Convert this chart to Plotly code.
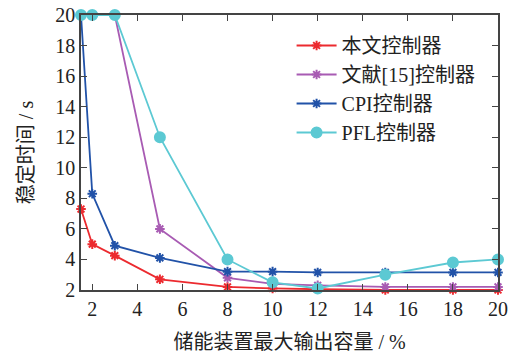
import plotly.graph_objects as go

x = [1.5, 2, 3, 5, 8, 10, 12, 15, 18, 20]
names = ["本文控制器", "文献[15]控制器", "CPI控制器", "PFL控制器"]
y_ours = [7.3, 5.0, 4.25, 2.7, 2.2, 2.1, 2.05, 2.0, 2.0, 2.0]
y_ref15 = [20, 20, 20, 6.0, 2.8, 2.4, 2.3, 2.2, 2.2, 2.2]
y_cpi = [20, 8.3, 4.9, 4.1, 3.2, 3.2, 3.15, 3.15, 3.15, 3.15]
y_pfl = [20, 20, 20, 12.0, 4.0, 2.5, 2.1, 3.0, 3.8, 4.0]
x_ticks = [2, 4, 6, 8, 10, 12, 14, 16, 18, 20]
y_ticks = [2, 4, 6, 8, 10, 12, 14, 16, 18, 20]

colors = ["#ec2a2f", "#a85bb3", "#2152a8", "#5cc9d3"]
symbols = ["asterisk-open", "asterisk-open", "asterisk-open", "circle"]
sizes = [8, 8, 8, 10]
series = [y_ours, y_ref15, y_cpi, y_pfl]

fig = go.Figure()
for name, ys, c, s, sz in zip(names, series, colors, symbols, sizes):
    fig.add_trace(go.Scatter(
        x=x, y=ys, name=name, mode="lines+markers",
        line=dict(color=c, width=1.8),
        marker=dict(symbol=s, size=sz, color=c, line=dict(color=c, width=2)),
        cliponaxis=False,
    ))

font_fam = "Liberation Serif, Noto Sans CJK SC, serif"
axis_common = dict(
    showgrid=False, zeroline=False, showline=True, linecolor="#444", linewidth=1.5,
    mirror="ticks", ticks="inside", ticklen=6, tickcolor="#444", tickwidth=1.2,
    tickfont=dict(family=font_fam, size=20, color="#222"),
    automargin=False,
)
fig.update_layout(
    width=513, height=354,
    margin=dict(l=81, r=15, t=15, b=64, autoexpand=False),
    paper_bgcolor="white", plot_bgcolor="white",
    font=dict(family=font_fam, color="#222"),
    xaxis=dict(range=[1.5, 20], tickvals=x_ticks,
               title=dict(text="储能装置最大输出容量 / %", font=dict(size=20), standoff=16),
               **axis_common),
    yaxis=dict(range=[2, 20], tickvals=y_ticks,
               title=dict(text="稳定时间 / s", font=dict(size=20), standoff=16),
               **axis_common),
    legend=dict(x=0.505, y=0.96, xanchor="left", yanchor="top",
                bgcolor="rgba(255,255,255,0)", font=dict(size=20, family=font_fam),
                tracegroupgap=0, itemwidth=40),
    showlegend=True,
)
fig.write_html("out.html", config={"displayModeBar": False},
               post_script="document.body.style.margin='0';document.body.style.padding='0';")
